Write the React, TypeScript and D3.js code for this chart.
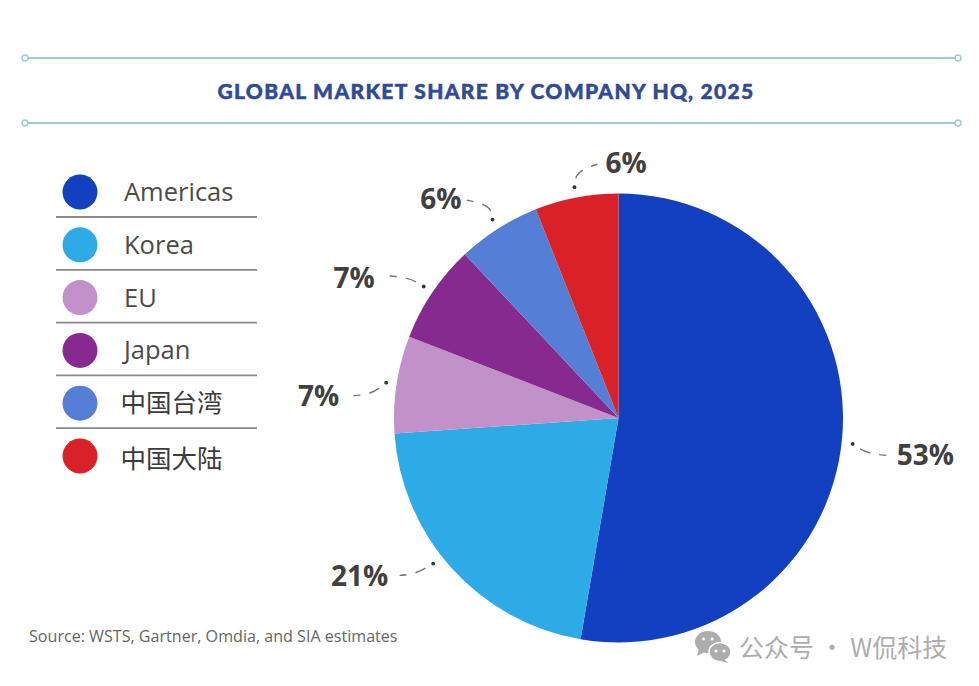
import { useEffect, useRef } from 'react';
import * as d3 from 'd3';

const regions = ['Americas', 'Korea', 'EU', 'Japan', '中国台湾', '中国大陆'];
// slice sizes as measured on the pie, labels show them rounded
const shares = [52.7, 21.2, 7.0, 7.1, 6.0, 6.0];
const regionColors = ['#1240c0', '#2cabe6', '#c391c9', '#862a90', '#557fd6', '#da2128'];

const WIDTH = 979;
const HEIGHT = 686;
const CX = 618.5;
const CY = 418;
const RADIUS = 224.5;

const sansFont = '"Open Sans", "Noto Sans CJK SC", sans-serif';
const cjkFont = '"Noto Sans CJK SC", sans-serif';

// where each callout sits relative to its dot: [bend, text end], and the label anchor
const calloutOffsets: Record<string, { nudge: [number, number]; bend: [number, number]; end: [number, number]; text: [number, number]; anchor: string }> = {
  Americas: { nudge: [0, 6], bend: [14, 10], end: [40, 12], text: [44, 11], anchor: 'start' },
  Korea: { nudge: [-11, -12], bend: [-18, 11], end: [-38, 12], text: [-45, 12], anchor: 'end' },
  EU: { nudge: [0, 0], bend: [-16, 13], end: [-42, 13], text: [-47, 13], anchor: 'end' },
  Japan: { nudge: [0, 0], bend: [-14, -9], end: [-40, -11], text: [-49, -9], anchor: 'end' },
  '中国台湾': { nudge: [0, 0], bend: [-1, -14], end: [-28, -20], text: [-31, -21], anchor: 'end' },
  '中国大陆': { nudge: [0, 0], bend: [1, -16], end: [26, -24], text: [31, -24], anchor: 'start' },
};

export default function App() {
  const svgRef = useRef<SVGSVGElement>(null);

  useEffect(() => {
    const svg = d3.select(svgRef.current);
    svg.selectAll('*').remove();

    // header rules
    const rules = svg.append('g');
    [58, 123].forEach((y) => {
      rules.append('line')
        .attr('x1', 25).attr('x2', 958)
        .attr('y1', y).attr('y2', y)
        .attr('stroke', '#9fcbd8')
        .attr('stroke-width', 2);
      [25, 958].forEach((x) => {
        rules.append('circle')
          .attr('cx', x).attr('cy', y).attr('r', 3)
          .attr('fill', '#fff')
          .attr('stroke', '#9fcbd8')
          .attr('stroke-width', 1.5);
      });
    });

    svg.append('text')
      .attr('x', 486).attr('y', 99)
      .attr('text-anchor', 'middle')
      .attr('font-family', 'Lato, sans-serif')
      .attr('font-weight', 900)
      .attr('font-size', 21)
      .attr('letter-spacing', 1.3)
      .attr('fill', '#2f4a96')
      .attr('stroke', '#2f4a96')
      .attr('stroke-width', 0.5)
      .text('GLOBAL MARKET SHARE BY COMPANY HQ, 2025');

    // legend
    const legendY = d3.scalePoint<string>().domain(regions).range([192, 456]);
    const legend = svg.append('g');
    regions.forEach((name, i) => {
      const y = legendY(name) ?? 0;
      legend.append('circle')
        .attr('cx', 80).attr('cy', y).attr('r', 17.5)
        .attr('fill', regionColors[i]);
      const isCjk = /[\u4e00-\u9fff]/.test(name);
      legend.append('text')
        .attr('x', isCjk ? 120.5 : 124)
        .attr('y', y + (name === '中国大陆' ? 12 : 9))
        .attr('font-family', isCjk ? cjkFont : sansFont)
        .attr('font-size', isCjk ? 25.5 : 25.5)
        .attr('fill', isCjk ? '#3c3c3c' : '#4b4b4b')
        .text(name);
      if (i < regions.length - 1) {
        legend.append('line')
          .attr('x1', 56).attr('x2', 257)
          .attr('y1', y + 25).attr('y2', y + 25)
          .attr('stroke', '#8a8a8a')
          .attr('stroke-width', 1.8);
      }
    });

    // pie, clockwise from twelve o'clock
    const pie = d3.pie<number>().sort(null);
    const arcs = pie(shares);
    const arc = d3.arc<d3.PieArcDatum<number>>().innerRadius(0).outerRadius(RADIUS);
    const chart = svg.append('g').attr('transform', `translate(${CX}, ${CY})`);
    chart.selectAll('path')
      .data(arcs)
      .join('path')
      .attr('d', arc)
      .attr('fill', (_d, i) => regionColors[i]);

    // callouts
    const dotArc = d3.arc<d3.PieArcDatum<number>>().innerRadius(235).outerRadius(235);
    const curve = d3.line().curve(d3.curveBasis);
    arcs.forEach((d, i) => {
      const name = regions[i];
      const o = calloutOffsets[name];
      const [dx, dy] = dotArc.centroid(d);
      const px = dx + o.nudge[0];
      const py = dy + o.nudge[1];
      chart.append('path')
        .attr('d', curve([
          [px, py],
          [px + o.bend[0], py + o.bend[1]],
          [px + o.end[0], py + o.end[1]],
        ]))
        .attr('fill', 'none')
        .attr('stroke', '#777')
        .attr('stroke-width', 1.4)
        .attr('stroke-dasharray', '0 9 11 9 7 100');
      chart.append('circle')
        .attr('cx', px).attr('cy', py).attr('r', 1.9)
        .attr('fill', '#333');
      chart.append('text')
        .attr('x', px + o.text[0])
        .attr('y', py + o.text[1])
        .attr('dy', '0.36em')
        .attr('text-anchor', o.anchor)
        .attr('font-family', sansFont)
        .attr('font-weight', 700)
        .attr('font-size', 28)
        .attr('fill', '#404040')
        .text(`${Math.round(shares[i])}%`);
    });

    svg.append('text')
      .attr('x', 29).attr('y', 642)
      .attr('font-family', sansFont)
      .attr('font-size', 16.1)
      .attr('fill', '#666')
      .text('Source: WSTS, Gartner, Omdia, and SIA estimates');

    // watermark
    const mark = svg.append('g').attr('fill', '#adadad');
    mark.append('ellipse').attr('cx', 708).attr('cy', 642).attr('rx', 13).attr('ry', 11);
    mark.append('path').attr('d', d3.line()([[699, 649], [697, 656], [705, 652]]) ?? '');
    mark.append('ellipse').attr('cx', 720).attr('cy', 652).attr('rx', 11).attr('ry', 9.5)
      .attr('stroke', '#fff').attr('stroke-width', 1.5);
    mark.append('path').attr('d', d3.line()([[724, 659], [728, 663], [718, 660]]) ?? '');
    [[703.5, 639], [712, 639], [716, 651], [724, 651]].forEach(([x, y]) => {
      mark.append('circle').attr('cx', x).attr('cy', y).attr('r', 1.5).attr('fill', '#fff');
    });
    svg.append('text')
      .attr('x', 739).attr('y', 657)
      .attr('font-family', cjkFont)
      .attr('font-size', 25)
      .attr('fill', '#adadad')
      .text('公众号 · W侃科技');
  }, []);

  return (
    <svg
      ref={svgRef}
      width={WIDTH}
      height={HEIGHT}
      viewBox={`0 0 ${WIDTH} ${HEIGHT}`}
      style={{ position: 'absolute', left: 0, top: 0, background: '#fff' }}
    />
  );
}
